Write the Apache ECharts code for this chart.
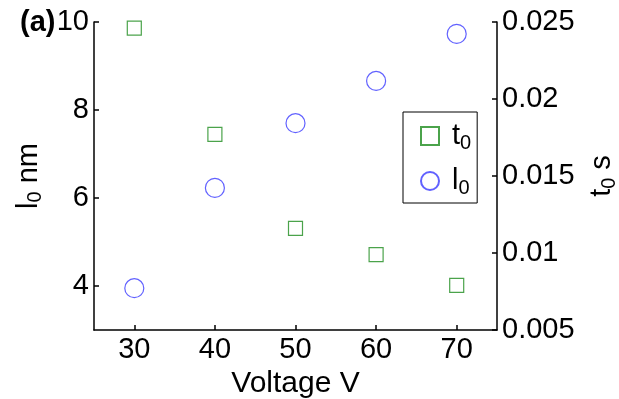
<!DOCTYPE html>
<html>
<head>
<meta charset="utf-8">
<script src="https://cdn.jsdelivr.net/npm/echarts@6/dist/echarts.min.js"></script>
<style>
  html, body { margin: 0; padding: 0; background: #fff; }
  #chart { width: 619px; height: 399px; }
</style>
</head>
<body>
<div id="chart"></div>
<script>
const voltages = [30, 40, 50, 60, 70];
const t0Values = [0.0246, 0.0177, 0.0116, 0.0099, 0.0079];
const l0Values = [3.95, 6.23, 7.70, 8.66, 9.73];
const xTicks = [30, 40, 50, 60, 70];
const leftTicks = [4, 6, 8, 10];

const font = 'Liberation Sans';
const green = '#1e8c1e';
const blue = '#3a3aff';

// main text + subscript, used by the legend and the two y-axis names
const subRich = {
  m: { fontSize: 29, fontFamily: font, color: '#000', lineHeight: 30 },
  s: { fontSize: 20, fontFamily: font, color: '#000', lineHeight: 30, padding: [14, 0, 0, 0] }
};

const axisLineStyle = { color: '#000', width: 1.5 };
const tickFont = { fontFamily: font, fontSize: 29, color: '#000' };

const option = {
  backgroundColor: '#fff',
  animation: false,
  title: {
    text: '(a)',
    left: 15,
    top: 3,
    textStyle: { fontFamily: font, fontWeight: 'bold', fontSize: 29, color: '#000' }
  },
  grid: { left: 94, right: 122, top: 22, bottom: 69, outerBoundsMode: 'none', containLabel: false },
  legend: {
    orient: 'vertical',
    left: 403,
    top: 112,
    padding: [7, 6, 5, 17],
    itemGap: 11,
    itemWidth: 18,
    itemHeight: 18,
    borderColor: '#000',
    borderWidth: 1,
    backgroundColor: '#fff',
    data: ['t0', 'l0'],
    formatter: name => `{m|${name[0]}}{s|${name[1]}}`,
    textStyle: { rich: subRich, padding: [0, 0, 0, 8] }
  },
  xAxis: {
    type: 'value',
    min: 25,
    max: 75,
    name: 'Voltage V',
    nameLocation: 'middle',
    nameGap: 35,
    nameTextStyle: { fontFamily: font, fontSize: 30, color: '#000' },
    axisLine: { lineStyle: axisLineStyle },
    axisTick: { inside: true, length: 5, customValues: xTicks, lineStyle: axisLineStyle },
    axisLabel: Object.assign({ customValues: xTicks, margin: 5 }, tickFont),
    splitLine: { show: false }
  },
  yAxis: [
    {
      type: 'value',
      min: 3,
      max: 10,
      position: 'left',
      name: '{m|l}{s|0}{m| nm}',
      nameLocation: 'middle',
      nameRotate: 90,
      nameGap: 46,
      nameTextStyle: { rich: subRich },
      axisLine: { show: true, onZero: false, lineStyle: axisLineStyle },
      axisTick: { show: true, inside: true, length: 5, customValues: leftTicks, lineStyle: axisLineStyle },
      axisLabel: Object.assign({ customValues: leftTicks, margin: 5 }, tickFont),
      splitLine: { show: false }
    },
    {
      type: 'value',
      min: 0.005,
      max: 0.025,
      interval: 0.005,
      position: 'right',
      name: '{m|t}{s|0}{m| s}',
      nameLocation: 'middle',
      nameRotate: 90,
      nameGap: 84,
      nameTextStyle: { rich: subRich },
      axisLine: { show: true, onZero: false, lineStyle: axisLineStyle },
      axisTick: { show: true, inside: true, length: 5, lineStyle: axisLineStyle },
      axisLabel: Object.assign({ margin: 5, formatter: v => String(+v.toFixed(3)) }, tickFont),
      splitLine: { show: false }
    }
  ],
  series: [
    {
      name: 't0',
      type: 'scatter',
      yAxisIndex: 1,
      symbol: 'rect',
      symbolSize: 14,
      itemStyle: { color: 'rgba(0,0,0,0)', borderColor: green, borderWidth: 1.2 },
      data: voltages.map((v, i) => [v, t0Values[i]])
    },
    {
      name: 'l0',
      type: 'scatter',
      yAxisIndex: 0,
      symbol: 'circle',
      symbolSize: 19,
      itemStyle: { color: 'rgba(0,0,0,0)', borderColor: blue, borderWidth: 1.2 },
      data: voltages.map((v, i) => [v, l0Values[i]])
    }
  ]
};

const chart = echarts.init(document.getElementById('chart'));
chart.setOption(option);
</script>
</body>
</html>
